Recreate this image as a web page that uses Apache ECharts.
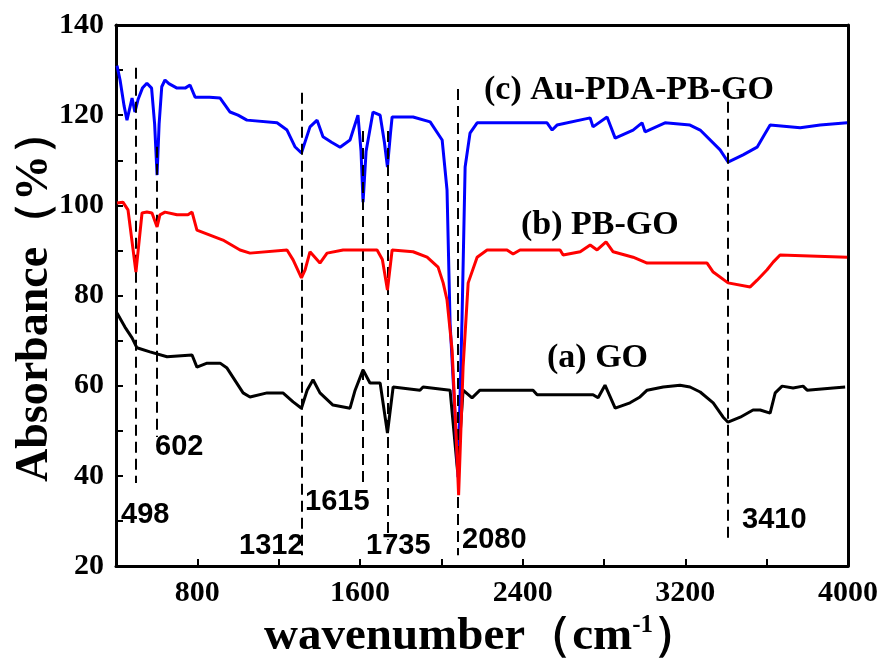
<!DOCTYPE html>
<html>
<head>
<meta charset="utf-8">
<script src="https://cdn.jsdelivr.net/npm/echarts@6/dist/echarts.min.js"></script>
<style>
  html, body { margin: 0; padding: 0; background: #fff; }
  #main { width: 885px; height: 659px; }
</style>
</head>
<body>
<div id="main"></div>
<script>
// (a) GO
var waveA = [405, 444, 479, 503, 567, 651, 774, 798, 848, 912, 946, 1025, 1059, 1143, 1221, 1271, 1312, 1340, 1369, 1403, 1467, 1551, 1576, 1615, 1649, 1699, 1735, 1763, 1895, 1910, 2043, 2080, 2107, 2151, 2190, 2451, 2471, 2746, 2771, 2805, 2855, 2928, 2977, 3012, 3091, 3174, 3223, 3273, 3337, 3386, 3410, 3470, 3533, 3568, 3617, 3642, 3676, 3730, 3779, 3799, 3927, 3986];
var absA = [76.1, 73, 70.6, 68.4, 67.5, 66.4, 66.8, 64.1, 65, 65, 63.9, 58.4, 57.5, 58.4, 58.4, 56.4, 55, 59, 61.3, 58.4, 55.7, 55, 59, 63.5, 60.6, 60.6, 49.5, 59.7, 59, 59.7, 59, 41, 59, 57.3, 59, 59, 58, 58, 57.3, 60.1, 55, 56.2, 57.5, 59, 59.7, 60.1, 59.7, 58.6, 56.2, 53, 51.9, 53, 54.6, 54.6, 53.9, 58.4, 59.9, 59.5, 59.9, 59, 59.5, 59.7];

// (b) PB-GO
var waveB = [405, 434, 459, 498, 528, 552, 577, 602, 616, 641, 700, 754, 774, 798, 862, 926, 1010, 1059, 1241, 1271, 1312, 1330, 1354, 1403, 1438, 1517, 1684, 1710, 1735, 1758, 1861, 1930, 1984, 2009, 2028, 2053, 2076, 2085, 2107, 2132, 2176, 2225, 2323, 2353, 2387, 2584, 2599, 2683, 2732, 2766, 2810, 2845, 2943, 3012, 3307, 3337, 3410, 3519, 3553, 3602, 3632, 3666, 3996];
var absB = [100.5, 100.7, 99, 85.2, 98.3, 98.5, 98.3, 95.2, 97.9, 98.5, 97.9, 97.9, 98.5, 94.5, 93.4, 92.3, 90.1, 89.4, 90.1, 87.9, 83.9, 85.7, 89.7, 87.2, 89.4, 90.1, 90.1, 88, 81.2, 90.1, 89.7, 88.5, 86.3, 82.8, 79, 67.9, 45.7, 35.7, 64.1, 82.8, 88.5, 90.1, 90.1, 89.2, 90.1, 90.1, 89, 89.7, 91.2, 90.1, 91.9, 89.7, 88.5, 87.2, 87.2, 85.2, 82.8, 81.9, 83.4, 85.7, 87.4, 89, 88.5];

// (c) Au-PDA-PB-GO
var waveC = [405, 420, 440, 454, 470, 479, 493, 508, 530, 552, 575, 590, 602, 612, 625, 641, 660, 700, 740, 764, 789, 860, 912, 961, 1000, 1044, 1192, 1241, 1280, 1312, 1354, 1389, 1418, 1460, 1502, 1551, 1590, 1605, 1615, 1630, 1664, 1699, 1720, 1735, 1750, 1758, 1861, 1945, 2004, 2028, 2043, 2068, 2082, 2102, 2117, 2141, 2176, 2520, 2545, 2569, 2732, 2746, 2815, 2855, 2943, 2987, 3002, 3100, 3223, 3273, 3371, 3410, 3484, 3553, 3583, 3617, 3765, 3863, 3996];
var absC = [131, 127.8, 122, 118.9, 122, 123.8, 120.7, 123.4, 126, 127.1, 126, 118, 106.7, 118, 126.3, 127.8, 127, 126, 126, 126.7, 124, 124, 123.8, 120.7, 120, 118.9, 118.3, 116.7, 113, 111.6, 117.4, 118.9, 115.2, 114, 112.9, 114.5, 120, 112, 100.7, 112, 120.7, 120, 114, 108.5, 116, 119.6, 119.6, 118.5, 114.5, 103.4, 73.9, 53, 39.7, 75.2, 108.5, 116, 118.3, 118.3, 116.7, 117.8, 119.4, 117.4, 119.6, 114.9, 116.7, 118.3, 116.3, 118.3, 117.8, 116.7, 112.3, 109.6, 111.2, 112.9, 115.2, 117.8, 117.2, 117.8, 118.3];

// marked peaks: wavenumber, dashed line top and bottom
var peakWave = [498, 602, 1312, 1615, 1735, 2080, 3410];
var peakTop = [130.5, 113, 125, 116.5, 116.5, 125.8, 123];
var peakBottom = [38.4, 48.6, 22.4, 37.5, 25.8, 22.4, 25.8];

var seriesNames = ['(a) GO', '(b) PB-GO', '(c) Au-PDA-PB-GO'];

function pairs(xs, ys) {
  var out = [];
  for (var i = 0; i < xs.length; i++) {
    out.push([xs[i], ys[i]]);
  }
  return out;
}

var peakLines = [];
for (var i = 0; i < peakWave.length; i++) {
  peakLines.push([{ coord: [peakWave[i], peakTop[i]] }, { coord: [peakWave[i], peakBottom[i]] }]);
}

var serif = 'Liberation Serif';
var sans = 'Liberation Sans';

var chart = echarts.init(document.getElementById('main'), null, { renderer: 'canvas' });

var option = {
  backgroundColor: '#fff',
  animation: false,
  grid: { left: 116, right: 37, top: 25, bottom: 93, outerBoundsMode: 'none', containLabel: false },
  xAxis: [{
    type: 'value',
    min: 400,
    max: 4000,
    interval: 400,
    name: '{t|wavenumber（cm}{s|-1}{t|）}',
    nameLocation: 'middle',
    nameGap: 44,
    nameTextStyle: {
      rich: {
        t: { fontFamily: serif, fontWeight: 'bold', fontSize: 47, color: '#000' },
        s: { fontFamily: serif, fontWeight: 'bold', fontSize: 25, color: '#000', verticalAlign: 'top', padding: [0, 0, 20, 0] }
      }
    },
    axisLine: { show: true, onZero: false, lineStyle: { color: '#000', width: 3 } },
    axisTick: { show: true, inside: true, length: 7, lineStyle: { color: '#000', width: 2 } },
    axisLabel: {
      color: '#000', fontFamily: serif, fontWeight: 'bold', fontSize: 30, margin: 12,
      formatter: function (v) { return (v % 800 === 0 && v > 400) ? String(v) : ''; }
    },
    splitLine: { show: false }
  }, {
    type: 'value', position: 'top', min: 400, max: 4000,
    axisLine: { show: true, onZero: false, lineStyle: { color: '#000', width: 3 } },
    axisTick: { show: false }, axisLabel: { show: false }, splitLine: { show: false }
  }],
  yAxis: [{
    type: 'value',
    min: 20,
    max: 140,
    interval: 10,
    name: 'Absorbance（%）',
    nameLocation: 'middle',
    nameRotate: 90,
    nameGap: 58,
    nameMoveOverlap: false,
    nameTextStyle: { fontFamily: serif, fontWeight: 'bold', fontSize: 46, color: '#000' },
    axisLine: { show: true, onZero: false, lineStyle: { color: '#000', width: 3 } },
    axisTick: { show: true, inside: true, length: 7, lineStyle: { color: '#000', width: 2 } },
    axisLabel: {
      color: '#000', fontFamily: serif, fontWeight: 'bold', fontSize: 30, margin: 12,
      formatter: function (v) { return v % 20 === 0 ? String(v) : ''; }
    },
    splitLine: { show: false }
  }, {
    type: 'value', position: 'right', min: 20, max: 140,
    axisLine: { show: true, onZero: false, lineStyle: { color: '#000', width: 3 } },
    axisTick: { show: false }, axisLabel: { show: false }, splitLine: { show: false }
  }],
  series: [{
    name: seriesNames[0],
    type: 'line',
    data: pairs(waveA, absA),
    showSymbol: false,
    lineStyle: { color: '#000', width: 3 },
    itemStyle: { color: '#000' },
    markLine: {
      silent: true,
      symbol: 'none',
      label: { show: false },
      lineStyle: { color: '#000', type: [11, 6], width: 2 },
      data: peakLines
    },
    z: 3
  }, {
    name: seriesNames[2],
    type: 'line',
    data: pairs(waveC, absC),
    showSymbol: false,
    lineStyle: { color: '#0000ff', width: 3 },
    itemStyle: { color: '#0000ff' },
    z: 4
  }, {
    name: seriesNames[1],
    type: 'line',
    data: pairs(waveB, absB),
    showSymbol: false,
    lineStyle: { color: '#ff0000', width: 3 },
    itemStyle: { color: '#ff0000' },
    z: 5
  }]
};

chart.setOption(option);

// series and peak annotations
var nameStyle = { fontFamily: serif, fontWeight: 'bold', fontSize: 34, fill: '#000' };
var peakStyle = { fontFamily: sans, fontWeight: 'bold', fontSize: 29, fill: '#000' };
var notes = [
  { text: seriesNames[2], x: 484, y: 90, s: nameStyle },
  { text: seriesNames[1], x: 521, y: 225, s: nameStyle },
  { text: seriesNames[0], x: 547, y: 358, s: nameStyle },
  { text: '498', x: 121, y: 515, s: peakStyle },
  { text: '602', x: 155, y: 447, s: peakStyle },
  { text: '1312', x: 239, y: 546, s: peakStyle },
  { text: '1615', x: 305, y: 502, s: peakStyle },
  { text: '1735', x: 366, y: 546, s: peakStyle },
  { text: '2080', x: 462, y: 540, s: peakStyle },
  { text: '3410', x: 742, y: 520, s: peakStyle }
];
var graphics = [];
for (var k = 0; k < notes.length; k++) {
  var n = notes[k];
  graphics.push({
    type: 'text',
    x: n.x,
    y: n.y,
    z: 10,
    style: Object.assign({ text: n.text, verticalAlign: 'middle', textAlign: 'left' }, n.s)
  });
}
chart.setOption({ graphic: graphics });
</script>
</body>
</html>
